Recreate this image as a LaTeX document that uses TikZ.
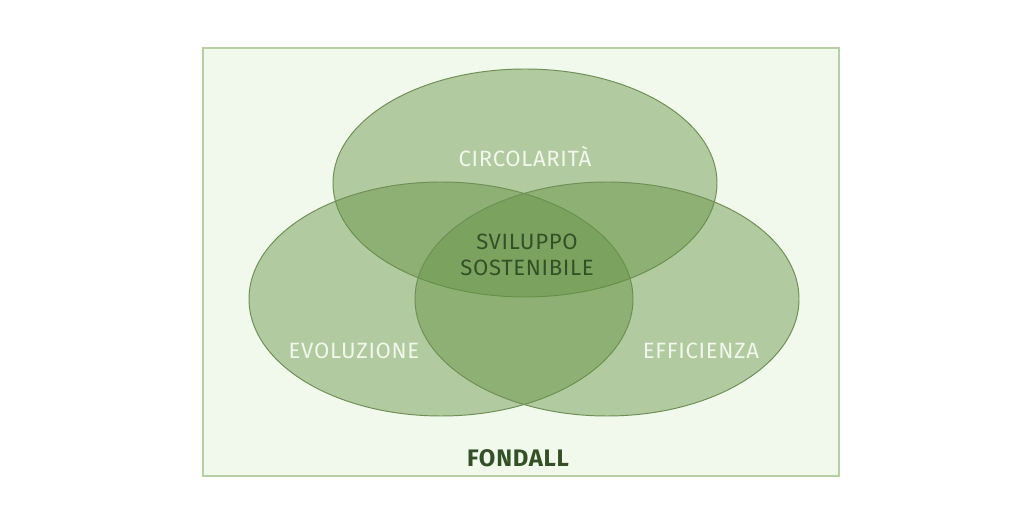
\documentclass[tikz,border=0pt]{standalone}
\usepackage{fontspec}
\setmainfont{Fira Sans}[LetterSpace=3]
\usepackage{tikz}
\usetikzlibrary{positioning}

\definecolor{frameFill}{RGB}{241,248,236}
\definecolor{frameLine}{RGB}{181,208,163}
\definecolor{setFill}{RGB}{101,146,67}
\definecolor{setLine}{RGB}{110,143,85}
\definecolor{darkText}{RGB}{52,80,38}
\definecolor{lightText}{RGB}{242,247,238}

\begin{document}
\begin{tikzpicture}[x=0.02cm, y=-0.02cm,
    set/.style={fill=setFill, fill opacity=0.45, draw=setLine, line width=0.55pt},
    setlabel/.style={text=lightText, font=\fontsize{12.6}{14}\selectfont},
    corelabel/.style={text=darkText, font=\fontsize{12.6}{15}\selectfont, align=center}]
    \useasboundingbox (0,0) rectangle (1024,519);

    % Frame
    \draw[fill=frameFill, draw=frameLine, line width=1.1pt] (203,48) rectangle (839,476);

    % Sets
    \draw[set] (525,183) ellipse [x radius=192, y radius=114];
    \draw[set] (441,299) ellipse [x radius=192, y radius=117];
    \draw[set] (607,299) ellipse [x radius=192, y radius=117];

    % Labels
    \node[setlabel] (circ) at (525,157) {CIRCOLARITÀ};
    \node[setlabel] (evol) at (354,351) {EVOLUZIONE};
    \node[setlabel] (effi) at (701,351) {EFFICIENZA};
    \node[corelabel] (core) at (527,255) {SVILUPPO\\SOSTENIBILE};
    \node[text=darkText, font=\fontsize{13.6}{15}\selectfont\bfseries] (name) at (518,458) {FONDALL};
  \end{tikzpicture}
\end{document}
